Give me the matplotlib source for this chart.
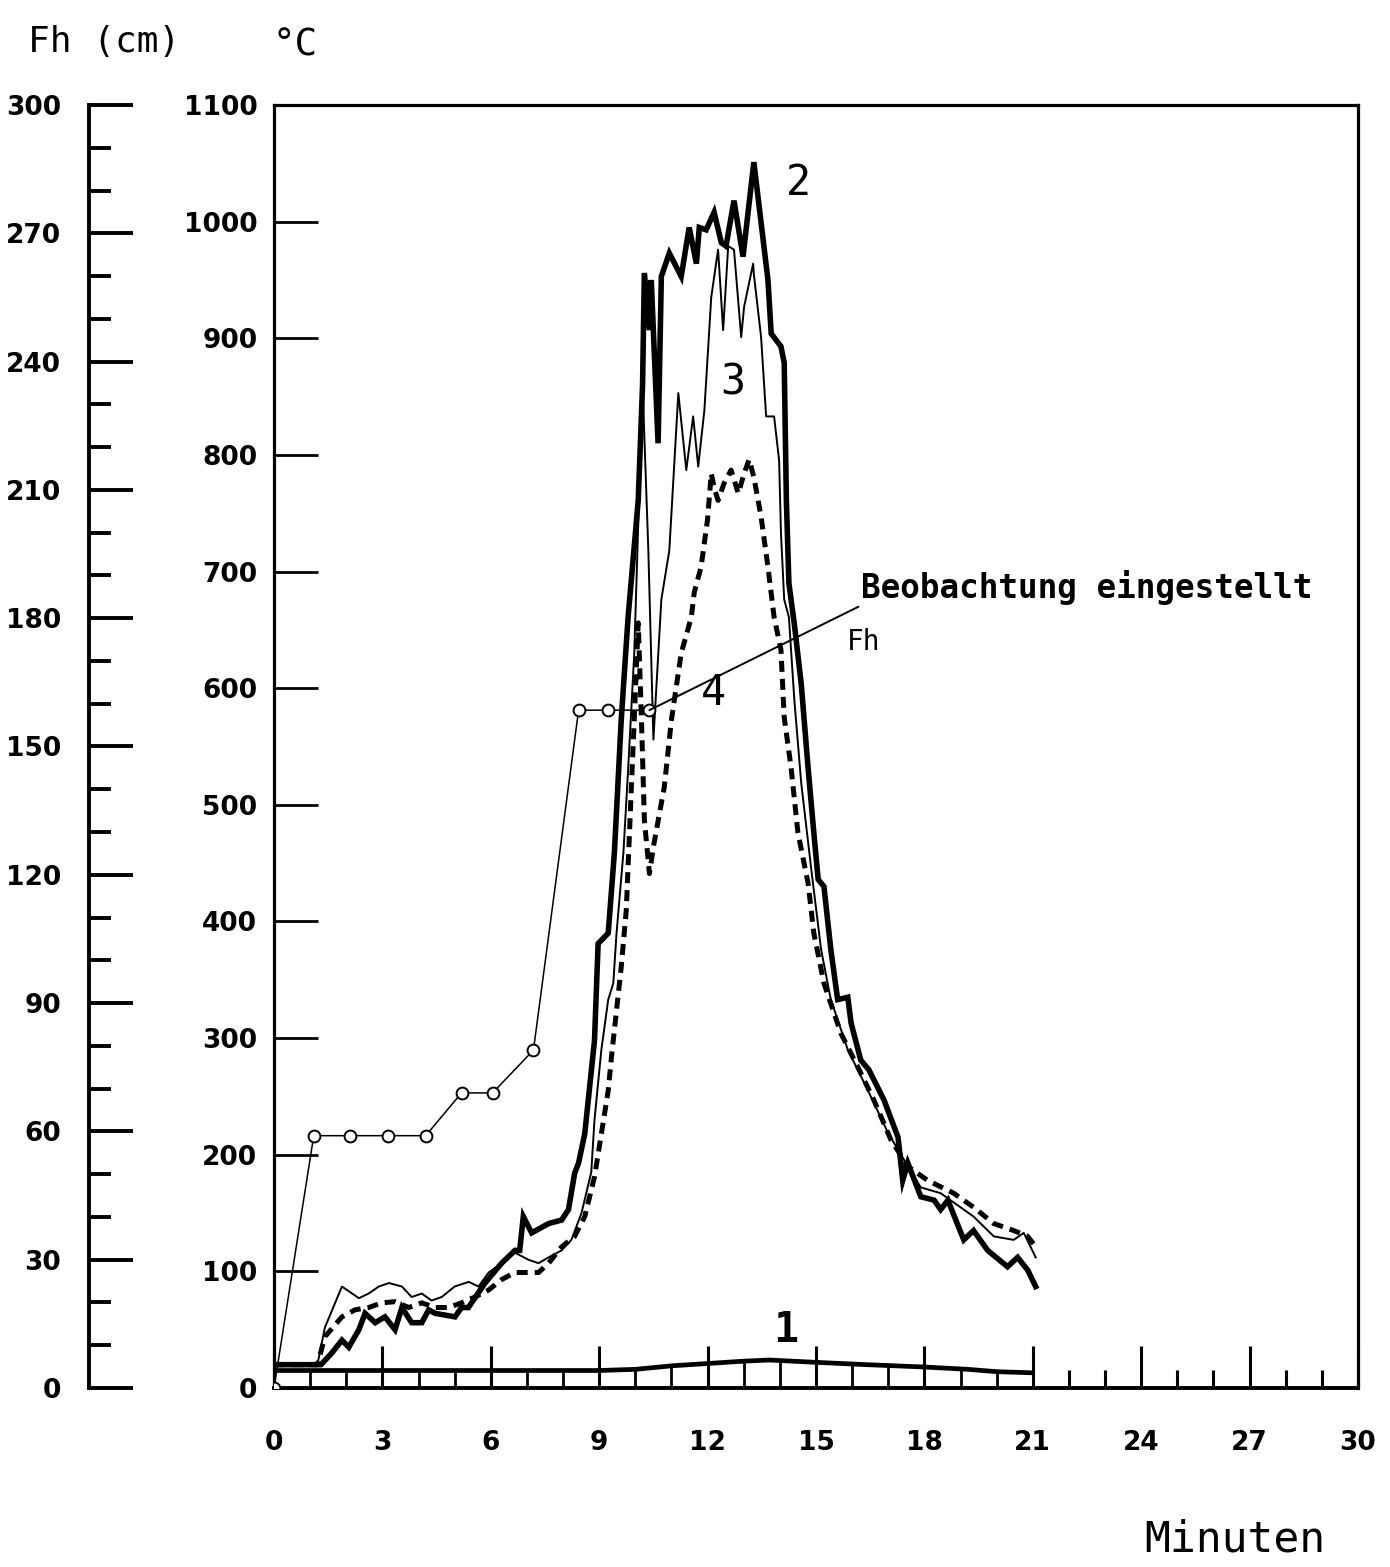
import numpy as np
import matplotlib
matplotlib.use('Agg')
import matplotlib.pyplot as plt
from matplotlib.ticker import FixedLocator

# ---------------- data ----------------
# Curve 2 (thick solid)
t2 = [0, 1.3, 1.6, 1.88, 2.07, 2.35, 2.52, 2.8, 3.07, 3.35, 3.54, 3.81, 4.09, 4.28, 4.46,
      5.01, 5.19, 5.38, 5.84, 6.3, 6.67, 6.8, 6.9, 7.13, 7.6, 7.96, 8.15, 8.32, 8.43, 8.6,
      8.87, 8.97, 9.25, 9.42, 9.61, 9.8, 10.08, 10.2, 10.25, 10.39, 10.44, 10.63, 10.72, 10.94,
      11.27, 11.49, 11.69, 11.77, 11.96, 12.18, 12.38, 12.51, 12.73, 12.98, 13.28, 13.67,
      13.76, 14.03, 14.12, 14.18, 14.25, 14.4, 14.59, 14.78, 14.94, 15.06, 15.22, 15.41, 15.6,
      15.88, 15.97, 16.24, 16.46, 16.88, 17.27, 17.4, 17.54, 17.9, 18.27, 18.45, 18.65, 19.09,
      19.36, 19.75, 20.3, 20.58, 20.86, 21.08]
T2 = [20, 20, 30, 41, 35, 50, 64, 56, 61, 50, 69, 56, 56, 67, 64,
      61, 69, 69, 90, 107, 118, 118, 147, 133, 141, 144, 153, 184, 193, 218,
      298, 381, 390, 459, 573, 661, 761, 860, 956, 907, 950, 810, 953, 973,
      953, 995, 964, 995, 993, 1008, 982, 979, 1018, 970, 1051, 950,
      904, 893, 879, 761, 690, 655, 604, 532, 476, 436, 430, 376, 333,
      335, 313, 281, 273, 247, 215, 178, 193, 164, 161, 153, 161, 127,
      135, 118, 104, 112, 101, 87]

# Curve 3 (thin solid)
t3 = [0, 1.2, 1.41, 1.88, 2.35, 2.62, 2.9, 3.18, 3.54, 3.81, 4.09, 4.36, 4.64, 5.0, 5.39,
      5.66, 5.94, 6.3, 6.67, 7.04, 7.32, 7.6, 7.96, 8.23, 8.51, 8.78, 8.87, 9.06, 9.25, 9.39,
      9.48, 9.67, 9.8, 9.97, 10.2, 10.36, 10.5, 10.72, 10.94, 11.19, 11.41, 11.6, 11.74,
      11.91, 12.04, 12.1, 12.29, 12.43, 12.57, 12.73, 12.93, 13.01, 13.26, 13.28, 13.48,
      13.62, 13.84, 13.98, 14.03, 14.12, 14.25, 14.4, 14.59, 14.86, 15.14, 15.41, 15.88,
      16.44, 16.99, 17.43, 17.9, 18.45, 19.36, 19.92, 20.47, 20.75, 21.08]
T3 = [20, 20, 52, 87, 77, 81, 87, 90, 87, 78, 81, 75, 78, 87, 91,
      87, 99, 107, 116, 110, 107, 112, 118, 127, 150, 185, 230, 290, 333, 347,
      390, 459, 530, 630, 860, 718, 556, 676, 718, 853, 787, 833, 790,
      838, 904, 935, 976, 907, 979, 976, 901, 927, 964, 955, 901,
      833, 833, 795, 733, 676, 661, 590, 519, 447, 376, 333, 290,
      255, 219, 196, 172, 167, 147, 130, 127, 133, 112]

# Curve 4 (dashed)
t4 = [0, 1.2, 1.41, 1.88, 2.24, 2.62, 2.98, 3.35, 3.73, 4.09, 4.46, 4.83, 5.19, 5.56, 5.94,
      6.3, 6.67, 7.04, 7.32, 7.6, 7.96, 8.32, 8.6, 8.87, 9.06, 9.25, 9.34, 9.61, 9.75, 9.89,
      9.97, 10.08, 10.17, 10.25, 10.39, 10.5, 10.8, 11.0, 11.27, 11.55, 11.63, 11.82, 12.0,
      12.1, 12.2, 12.29, 12.46, 12.65, 12.85, 13.01, 13.15, 13.28, 13.48, 13.67, 13.84, 14.03,
      14.12, 14.31, 14.5, 14.78, 14.94, 15.22, 15.69, 16.16, 16.6, 17.07, 17.54, 18.09, 18.81,
      19.36, 19.92, 20.47, 20.86, 21.08]
T4 = [20, 20, 44, 61, 67, 69, 73, 74, 69, 73, 69, 69, 73, 78, 84,
      93, 99, 99, 99, 107, 121, 130, 147, 181, 218, 255, 284, 361, 410, 515,
      573, 656, 573, 487, 441, 464, 515, 573, 630, 661, 682, 704, 745,
      784, 770, 761, 776, 787, 767, 784, 796, 781, 747, 704, 661, 633,
      575, 532, 476, 433, 390, 347, 304, 275, 247, 213, 190, 178, 167,
      155, 141, 135, 130, 121]

# Curve 1 (thick, near the bottom)
t1 = [0, 3, 6, 9, 10, 11, 12, 13, 13.7, 15, 16.4, 18, 19.2, 20, 21]
T1 = [15, 15, 15, 15, 16, 19, 21, 23, 24, 22, 20, 18, 16, 14, 13]

# Flame height Fh (cm)
t_fh = [0, 1.1, 2.1, 3.15, 4.2, 5.19, 6.05, 7.18, 8.43, 9.25, 10.39]
fh = [0, 59, 59, 59, 59, 69, 69, 79, 158.5, 158.5, 158.5]

x_ticks_major = list(range(0, 31, 3))
t_end = 21
celsius_ticks = list(range(0, 1101, 100))
fh_major = list(range(0, 301, 30))
fh_minor = list(range(0, 301, 10))

# ---------------- figure ----------------
W, H = 1390, 1567
fig = plt.figure(figsize=(W / 100, H / 100), dpi=100)
L, R, B, TOP = 274, 1358, 1388, 105
ax = fig.add_axes([L / W, 1 - B / H, (R - L) / W, (B - TOP) / H])
ax.set_xlim(0, 30)
ax.set_ylim(0, 1100)
for s in ax.spines.values():
    s.set_linewidth(2.3)
ax.spines['bottom'].set_linewidth(2.8)

tickfont = dict(family='DejaVu Sans', weight='bold', size=19)

ax.xaxis.set_major_locator(FixedLocator(x_ticks_major))
ax.xaxis.set_minor_locator(FixedLocator([m for m in range(t_end + 1, 31) if m % 3]))
ax.yaxis.set_major_locator(FixedLocator(celsius_ticks))
ax.tick_params(axis='x', which='major', direction='in', length=30, width=2.2, pad=30)
ax.tick_params(axis='x', which='minor', direction='in', length=13, width=2.2)
ax.tick_params(axis='y', which='major', direction='in', length=32, width=2.0, pad=12)
ax.set_xticklabels([str(v) for v in x_ticks_major], fontdict=tickfont)
ax.set_yticklabels([str(v) for v in celsius_ticks], fontdict=tickfont)

# minute "boxes" between axis and curve 1
mins = np.arange(0, t_end + 1)
ax.vlines(mins, 0, np.interp(mins, t1, T1), color='k', lw=2.0)

# temperature curves
ax.plot(t1, T1, color='k', lw=3.4, solid_capstyle='round')
ax.plot(t2, T2, color='k', lw=4.0, solid_joinstyle='miter')
ax.plot(t3, T3, color='k', lw=1.4)
ax.plot(t4, T4, color='k', lw=3.6, dashes=(2.2, 1.4))

# Fh on its own scale
ax2 = ax.twinx()
ax2.set_ylim(0, 300)
ax2.axis('off')
ax2.plot(t_fh, fh, color='k', lw=1.1, marker='o', ms=8.5, mfc='white', mec='k', mew=1.4)
ax2.annotate('Beobachtung eingestellt', xy=(t_fh[-1], fh[-1]), xytext=(16.25, 183),
             ha='left', va='bottom', fontsize=23.5, family='DejaVu Sans Mono', weight='bold',
             arrowprops=dict(arrowstyle='-', lw=1.4, color='k', shrinkA=0, shrinkB=0,
                             relpos=(0, 0)))
ax.text(16.33, 640, 'Fh', fontsize=20, family='DejaVu Sans Mono', ha='center', va='center')

# curve numbers
numfont = dict(family='DejaVu Sans Mono', size=30, ha='center', va='center')
ax.text(14.5, 1033, '2', **numfont)
ax.text(12.7, 862, '3', **numfont)
ax.text(12.15, 596, '4', **numfont)
ax.text(14.17, 50, '1', weight='bold', **numfont)

# separate Fh axis on the far left
axF = fig.add_axes([89 / W, 1 - B / H, 0.0005, (B - TOP) / H])
axF.set_ylim(0, 300)
axF.patch.set_visible(False)
for k in ('top', 'right', 'bottom'):
    axF.spines[k].set_visible(False)
axF.spines['left'].set_linewidth(2.8)
axF.set_xticks([])
axF.yaxis.set_major_locator(FixedLocator(fh_major))
axF.yaxis.set_minor_locator(FixedLocator([v for v in fh_minor if v % 30]))
axF.tick_params(axis='y', which='major', direction='in', length=32, width=2.8, pad=20)
axF.tick_params(axis='y', which='minor', direction='in', length=16, width=2.8)
axF.set_yticklabels([str(v) for v in fh_major], fontdict=tickfont)

# axis titles
fig.text(104 / W, 1 - 42 / H, 'Fh (cm)', fontsize=26, family='DejaVu Sans Mono',
         ha='center', va='center')
fig.text(295 / W, 1 - 45 / H, '°C', fontsize=27, family='DejaVu Sans Mono',
         ha='center', va='center')
fig.text(1235 / W, 1 - 1540 / H, 'Minuten', fontsize=31, family='DejaVu Sans Mono',
         ha='center', va='center')

fig.savefig('out.png', dpi=100, facecolor='white')
